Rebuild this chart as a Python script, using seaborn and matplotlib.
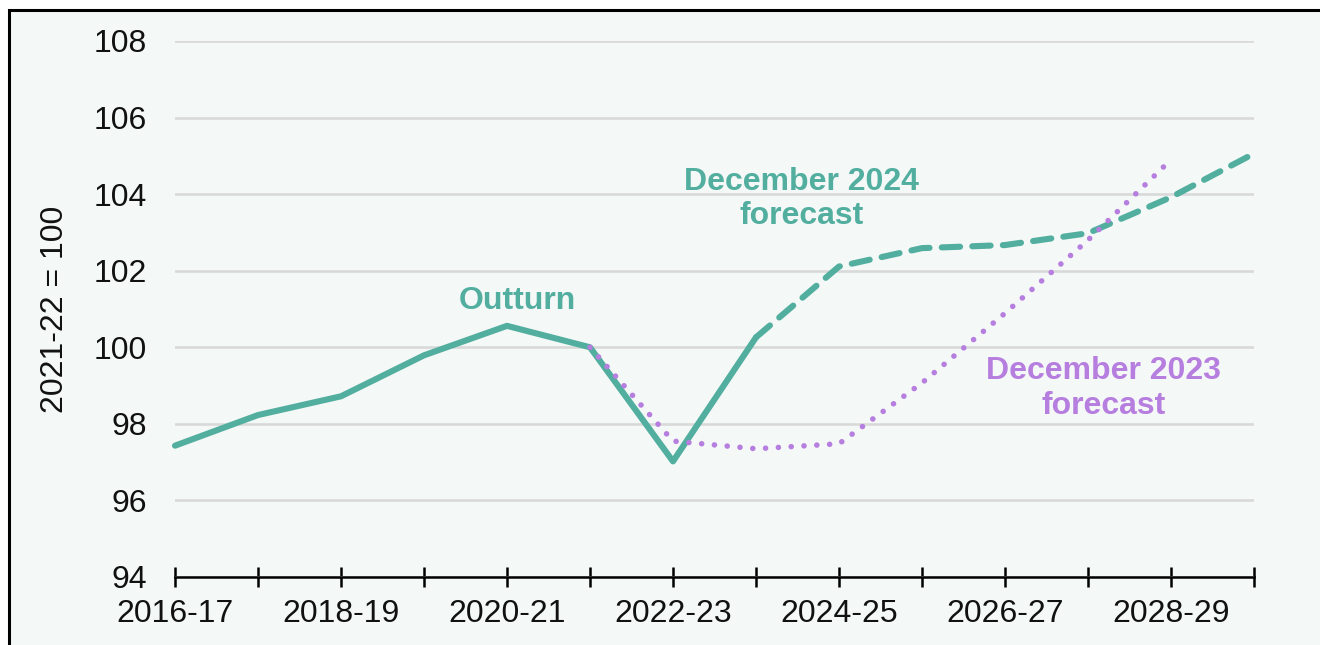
import matplotlib
matplotlib.use("Agg")
import matplotlib.pyplot as plt
import seaborn as sns
import pandas as pd
from matplotlib.patches import Rectangle

# ---- data ----
years = ["2016-17", "2017-18", "2018-19", "2019-20", "2020-21", "2021-22", "2022-23",
         "2023-24", "2024-25", "2025-26", "2026-27", "2027-28", "2028-29", "2029-30"]
outturn_years = years[0:8]
outturn = [97.43, 98.23, 98.72, 99.79, 100.56, 100.0, 97.02, 100.26]
dec2024_years = years[7:14]
dec2024 = [100.26, 102.11, 102.59, 102.67, 102.98, 103.92, 105.06]
dec2023_years = years[5:13]
dec2023 = [100.0, 97.55, 97.35, 97.48, 99.07, 100.89, 102.8, 104.9]
labelled_years = ["2016-17", "2018-19", "2020-21", "2022-23", "2024-25", "2026-27", "2028-29"]
yticks = [94, 96, 98, 100, 102, 104, 106, 108]

TEAL = "#52ae9f"
PURPLE = "#b67ede"
BG = "#f4f8f7"

sns.set_theme(style="white")
plt.rcParams["font.family"] = ["Liberation Sans", "DejaVu Sans"]

fig = plt.figure(figsize=(13.2, 6.45), dpi=100, facecolor="white")
# background panel with top/left frame
bgpatch = Rectangle((8.7 / 1320, -0.2), 1.5, 1.2 - 9.5 / 645,
                    transform=fig.transFigure, facecolor=BG,
                    edgecolor="black", linewidth=2.2, zorder=-10)
fig.patches.append(bgpatch)

ax = fig.add_axes([175 / 1320, 1 - 577 / 645, (1254 - 175) / 1320, (577 - 41) / 645])
ax.set_zorder(5)
ax.set_facecolor(BG)

pos = {y: i for i, y in enumerate(years)}
df_out = pd.DataFrame({"x": [pos[y] for y in outturn_years], "v": outturn})
df_24 = pd.DataFrame({"x": [pos[y] for y in dec2024_years], "v": dec2024})
df_23 = pd.DataFrame({"x": [pos[y] for y in dec2023_years], "v": dec2023})

sns.lineplot(data=df_out, x="x", y="v", ax=ax, color=TEAL, linewidth=4.4, zorder=3)
sns.lineplot(data=df_24, x="x", y="v", ax=ax, color=TEAL, linewidth=4.4, zorder=3)
sns.lineplot(data=df_23, x="x", y="v", ax=ax, color=PURPLE, linewidth=4.0, zorder=4)

lines = ax.get_lines()
lines[0].set_solid_capstyle("round")
lines[0].set_solid_joinstyle("round")
lines[1].set_dashes((3.0, 2.0))
lines[1].set_dash_capstyle("round")
lines[1].set_dash_joinstyle("round")
lines[2].set_dashes((0.01, 2.3))
lines[2].set_dash_capstyle("round")
for ln in lines:
    ln.set_clip_on(False)

ax.set_xlim(0, len(years) - 1)
ax.set_ylim(94, 108)
ax.set_yticks(yticks)
ax.set_yticklabels([str(t) for t in yticks])
ax.set_xticks(range(len(years)))
ax.set_xticklabels([y if y in labelled_years else "" for y in years])

ax.grid(axis="y", color="#d9d9d9", linewidth=1.9)
ax.grid(axis="x", visible=False)
ax.set_axisbelow(True)
for s in ["left", "right", "top"]:
    ax.spines[s].set_visible(False)
ax.spines["bottom"].set_color("black")
ax.spines["bottom"].set_linewidth(1.8)
ax.spines["bottom"].set_zorder(5)

ax.tick_params(axis="y", left=False, length=0, pad=20, labelsize=23, labelcolor="#111111")
ax.tick_params(axis="x", bottom=True, direction="inout", length=14, width=1.8,
               color="black", pad=9, labelsize=23, labelcolor="#111111")

ax.set_xlabel("")
ax.set_ylabel("2021-22 = 100", fontsize=23, color="#111111", labelpad=17)

ax.text(4.12, 100.99, "Outturn", color=TEAL, fontsize=23, fontweight="bold",
        ha="center", va="baseline")
ax.text(7.55, 103.21, "December 2024\nforecast", color=TEAL, fontsize=23,
        fontweight="bold", ha="center", va="baseline", linespacing=1.2)
ax.text(11.19, 98.27, "December 2023\nforecast", color=PURPLE, fontsize=23,
        fontweight="bold", ha="center", va="baseline", linespacing=1.2)

fig.savefig("out.png", dpi=100, facecolor=fig.get_facecolor())
